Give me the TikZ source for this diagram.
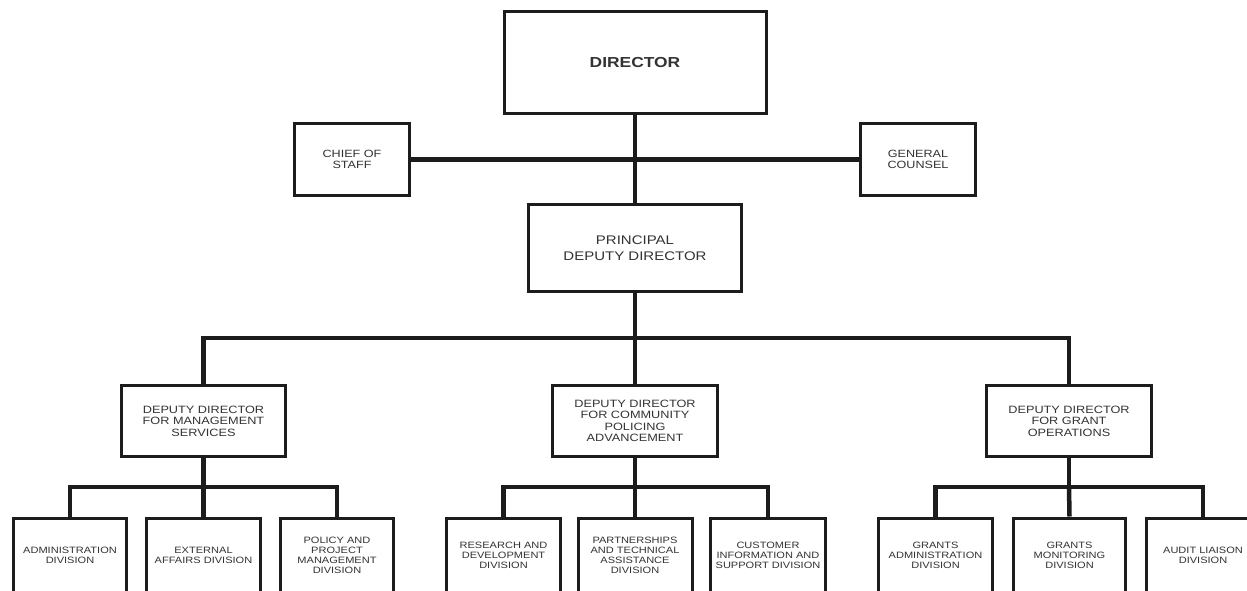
\documentclass[tikz,border=0pt]{standalone}
\usepackage{fontspec}
\setmainfont{Liberation Sans}[FakeStretch=1.2]
\definecolor{ink}{HTML}{1C1C1C}
\definecolor{txt}{HTML}{333333}
\tikzset{
  box/.style={draw=ink, line width=3pt, fill=white, rectangle, align=center, text=txt, inner sep=0pt},
  conn/.style={draw=ink, line width=4.5pt, line cap=butt},
  fdir/.style={font=\fontsize{14.5}{16}\selectfont\bfseries},
  fpdd/.style={font=\fontsize{12.5}{16}\selectfont},
  fstaff/.style={font=\fontsize{10.5}{11}\selectfont},
  fdd/.style={font=\fontsize{10.6}{11.5}\selectfont},
  fdiv/.style={font=\fontsize{9.2}{10}\selectfont},
  divbox/.style={box, fdiv, minimum height=75pt},
}
\begin{document}
\begin{tikzpicture}[x=1pt,y=-1pt]
\useasboundingbox (0,0) rectangle (1247,590);
\fill[white] (0,0) rectangle (1247,590);
\clip (0,0) rectangle (1247,590);
% bus points
\coordinate (bus) at (635,338);
\coordinate (b1) at (203.5,487);
\coordinate (b2) at (635,487);
\coordinate (b3) at (1069,487);
% nodes
\node[box, fdir, minimum width=262pt, minimum height=102pt] (dir) at (635,62.5) {DIRECTOR};
\node[box, fstaff, minimum width=115pt, minimum height=72pt] (cos) at (352,159.5) {CHIEF OF\\STAFF};
\node[box, fstaff, minimum width=115pt, minimum height=72pt] (gc) at (918,159.5) {GENERAL\\COUNSEL};
\node[box, fpdd, minimum width=213pt, minimum height=87pt] (pdd) at (635,248) {PRINCIPAL\\DEPUTY DIRECTOR};
\node[box, fdd, minimum width=164pt, minimum height=71pt] (dd1) at (203.5,421) {DEPUTY DIRECTOR\\FOR MANAGEMENT\\SERVICES};
\node[box, fdd, minimum width=165pt, minimum height=71pt] (dd2) at (635,421) {DEPUTY DIRECTOR\\FOR COMMUNITY\\POLICING\\ADVANCEMENT};
\node[box, fdd, minimum width=165pt, minimum height=71pt] (dd3) at (1069,421) {DEPUTY DIRECTOR\\FOR GRANT\\OPERATIONS};
\node[divbox, minimum width=113pt] (d11) at (70,555.5) {ADMINISTRATION\\DIVISION};
\node[divbox, minimum width=114pt] (d12) at (203.5,555.5) {EXTERNAL\\AFFAIRS DIVISION};
\node[divbox, minimum width=113pt] (d13) at (337,555.5) {POLICY AND\\PROJECT\\MANAGEMENT\\DIVISION};
\node[divbox, minimum width=114pt] (d21) at (503.5,555.5) {RESEARCH AND\\DEVELOPMENT\\DIVISION};
\node[divbox, minimum width=114pt] (d22) at (635,555.5) {PARTNERSHIPS\\AND TECHNICAL\\ASSISTANCE\\DIVISION};
\node[divbox, minimum width=115pt] (d23) at (768,555.5) {CUSTOMER\\INFORMATION AND\\SUPPORT DIVISION};
\node[divbox, minimum width=114pt] (d31) at (935.5,555.5) {GRANTS\\ADMINISTRATION\\DIVISION};
\node[divbox, minimum width=112pt] (d32) at (1069.5,555.5) {GRANTS\\MONITORING\\DIVISION};
\node[divbox, minimum width=113pt] (d33) at (1203,555.5) {AUDIT LIAISON\\DIVISION};
% connectors
\draw[conn] (dir.south) -- (pdd.north);
\draw[conn] (cos.east) -- (gc.west);
\draw[conn] (pdd.south) -- (bus);
\draw[conn] (dd1.north) |- (bus) -| (dd3.north);
\draw[conn] (bus) -- (dd2.north);
\draw[conn] (dd1.south) -- (b1);
\draw[conn] (d11.north) |- (b1) -| (d13.north);
\draw[conn] (b1) -- (d12.north);
\draw[conn] (dd2.south) -- (b2);
\draw[conn] (d21.north) |- (b2) -| (d23.north);
\draw[conn] (b2) -- (d22.north);
\draw[conn] (dd3.south) -- (b3);
\draw[conn] (d31.north) |- (b3) -| (d33.north);
\draw[conn] (b3) -- (d32.north);
\end{tikzpicture}
\end{document}
